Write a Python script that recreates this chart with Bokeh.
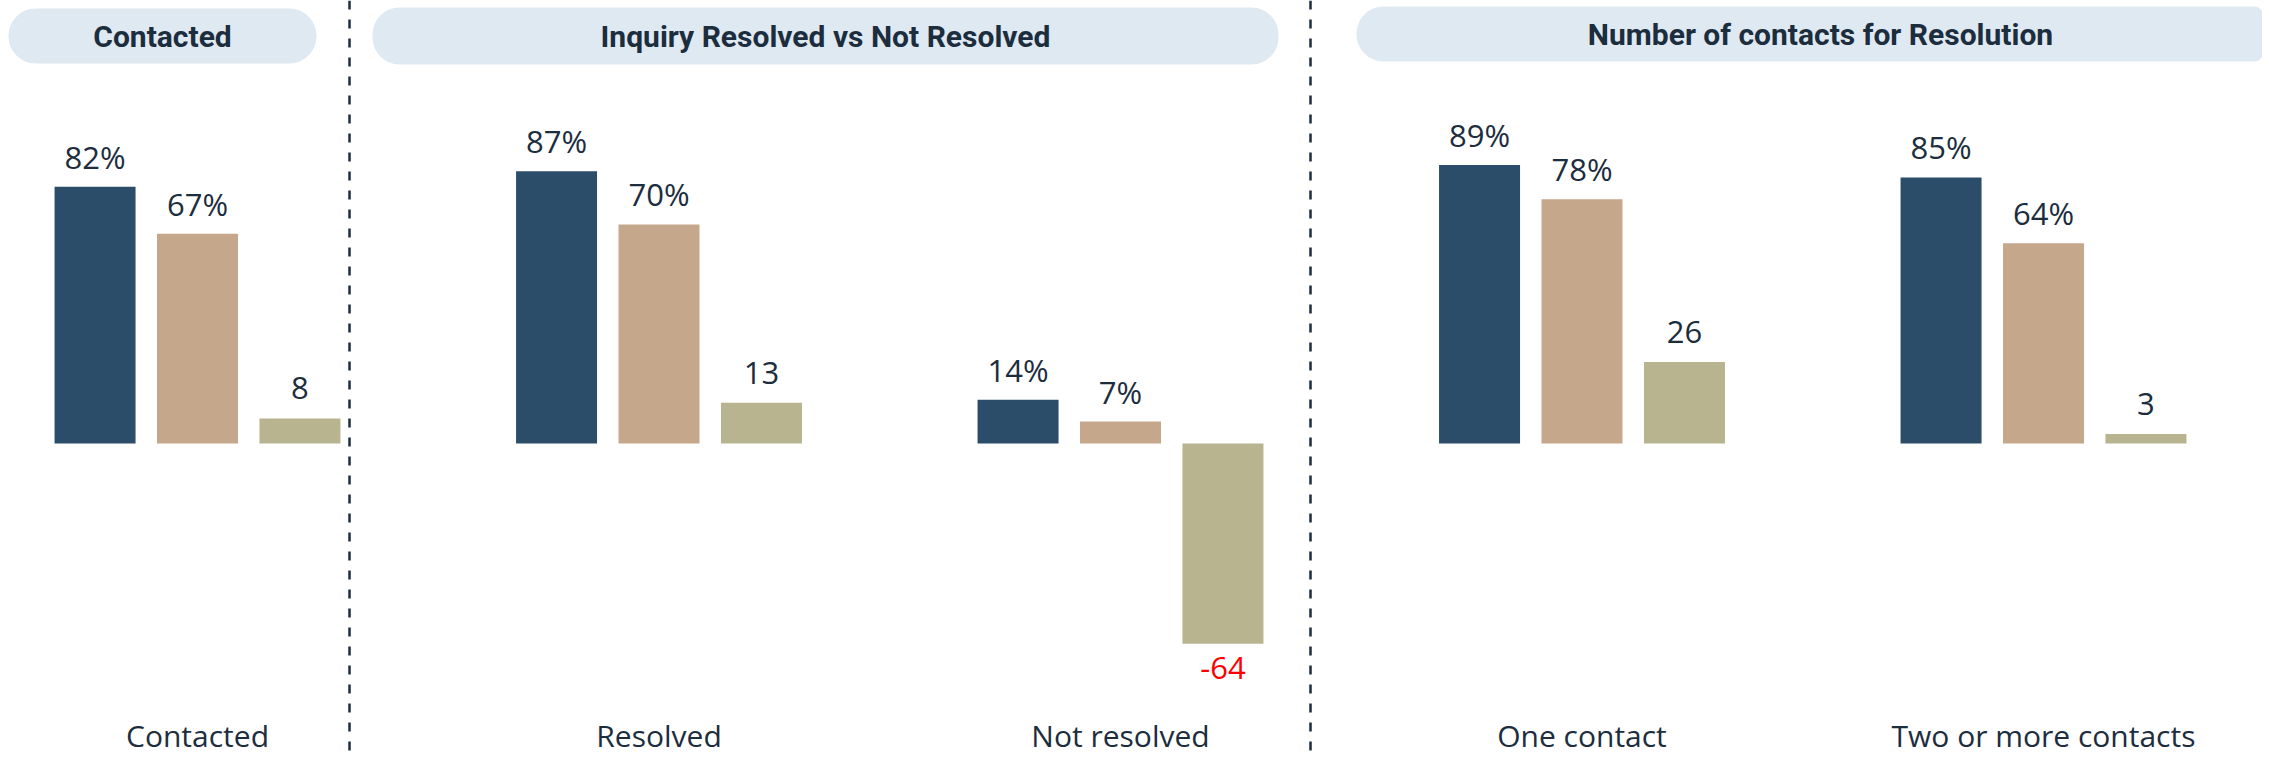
from bokeh.plotting import figure
from bokeh.models import ColumnDataSource, Span
from bokeh.core.properties import value
from bokeh.embed import file_html
from bokeh.resources import INLINE

# ---------------- data ----------------
categories = ["Contacted", "Resolved", "Not resolved", "One contact", "Two or more contacts"]
series_a = [82, 87, 14, 89, 85]      # first bar (navy), percent
series_b = [67, 70, 7, 78, 64]       # second bar (tan), percent
series_c = [8, 13, -64, 26, 3]       # third bar (khaki), net value
panel_titles = ["Contacted", "Inquiry Resolved vs Not Resolved", "Number of contacts for Resolution"]

# ---------------- layout (pixels) ----------------
W, H = 2262, 757
CAT_PX = 461.5          # pixels per category
CAT0_PX = 197.0         # canvas x of first category centre
BASE_PX = 443.0         # canvas y of zero line
UNIT_PX = 3.13          # pixels per value unit
TXT_FIX = 11            # svg text baseline correction

X0 = -CAT0_PX / CAT_PX
X1 = (W - CAT0_PX) / CAT_PX
Y1 = BASE_PX / UNIT_PX
Y0 = -(H - BASE_PX) / UNIT_PX


def cx(px):
    return X0 + px / CAT_PX


def cy(py):
    return Y1 - py / UNIT_PX


NAVY = "#2c4d6a"
TAN = "#c5a78b"
KHAKI = "#b8b48f"
TEXT = "#1c2d3e"
PILL = "#dfe9f2"
FONT = "Open Sans"
BFONT = "Roboto"

p = figure(width=W, height=H, x_range=(X0, X1), y_range=(Y0, Y1),
           output_backend="svg", toolbar_location=None,
           x_axis_location=None, y_axis_location=None, min_border=0)
p.grid.visible = False
p.outline_line_color = None
p.background_fill_color = "white"

# ---------------- header pills ----------------
pill_left_px = [8, 372, 1356]
pill_right_px = [316, 1278, W]
pill_top_px = [8, 7, 6]
pill_bot_px = [63, 64, 61]
title_x_px = [162, 825, 1820]

for i in range(3):
    br = (27, 27, 27, 27) if i < 2 else (27, 8, 8, 27)
    p.quad(left=cx(pill_left_px[i]), right=cx(pill_right_px[i]),
           top=cy(pill_top_px[i]), bottom=cy(pill_bot_px[i]),
           fill_color=PILL, line_color=None, border_radius=br)

p.text(x=[cx(v) for v in title_x_px],
       y=[cy((t + b) / 2) for t, b in zip(pill_top_px, pill_bot_px)],
       text=panel_titles, text_font=value(BFONT), text_font_style="bold",
       text_font_size="30px", text_color=TEXT, text_align="center",
       text_baseline="middle")

# ---------------- bars ----------------
OFF = 0.222
BW = 0.1755
idx = list(range(len(categories)))
for off, vals, col in [(-OFF, series_a, NAVY), (0.0, series_b, TAN), (OFF, series_c, KHAKI)]:
    src = ColumnDataSource(dict(x=[i + off for i in idx], top=vals))
    p.vbar(x="x", top="top", bottom=0, width=BW, source=src,
           fill_color=col, line_color=None)

# ---------------- value labels ----------------
for off, vals, pct in [(-OFF, series_a, True), (0.0, series_b, True), (OFF, series_c, False)]:
    pos = [(i + off, v) for i, v in zip(idx, vals) if v >= 0]
    neg = [(i + off, v) for i, v in zip(idx, vals) if v < 0]
    if pos:
        p.text(x=[a for a, _ in pos], y=[b for _, b in pos],
               text=[f"{b}%" if pct else f"{b}" for _, b in pos],
               text_font=value(FONT), text_font_size="31px", text_color=TEXT,
               text_align="center", text_baseline="alphabetic", y_offset=-19 - TXT_FIX)
    if neg:
        p.text(x=[a for a, _ in neg], y=[b for _, b in neg],
               text=[f"{b}%" if pct else f"{b}" for _, b in neg],
               text_font=value(FONT), text_font_size="31px", text_color="#ff0000",
               text_align="center", text_baseline="alphabetic", y_offset=24)

# ---------------- category labels ----------------
p.text(x=idx, y=[cy(746 - TXT_FIX)] * len(idx), text=categories,
       text_font=value(FONT), text_font_size="30px", text_color=TEXT,
       text_align="center", text_baseline="alphabetic")

# ---------------- dashed separators ----------------
for xpx in [349, 1310]:
    p.add_layout(Span(location=cx(xpx), dimension="height", line_color=TEXT,
                      line_width=2.5, line_dash="9 10"))

open("out.html", "w").write(file_html(p, INLINE))
